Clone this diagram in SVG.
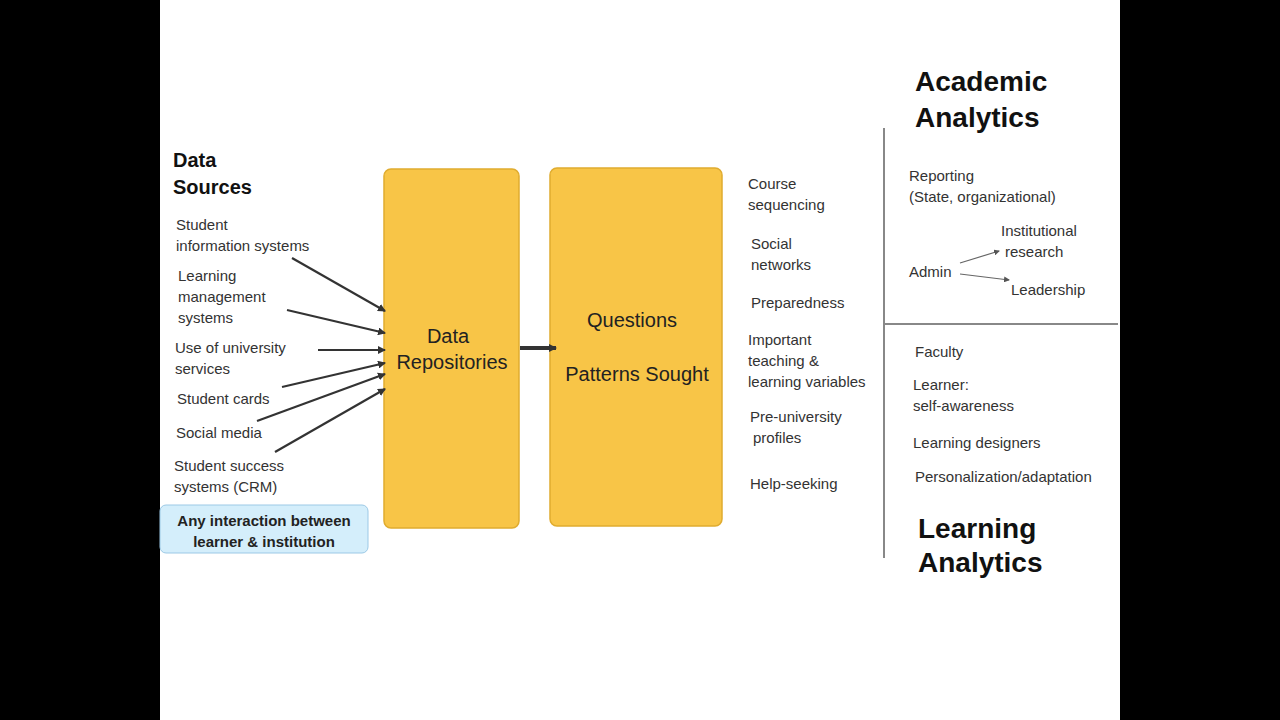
<svg xmlns="http://www.w3.org/2000/svg" width="1280" height="720" viewBox="0 0 1280 720">
<style>
text{font-family:"Liberation Sans",Arial,sans-serif;fill:#333}
.s{font-size:15px}
.h{font-size:20px;font-weight:bold;fill:#111}
.H{font-size:28px;font-weight:bold;fill:#111}
.b{font-size:20px;fill:#222}
.box{fill:#f8c547;stroke:#e0ac2f;stroke-width:1.5}
.c{stroke:#333;stroke-width:2.2;fill:none;marker-end:url(#a)}
.t{stroke:#666;stroke-width:1.2;fill:none;marker-end:url(#a2)}
</style>
<defs>
<marker id="a" markerWidth="8" markerHeight="8" refX="7" refY="4" orient="auto" markerUnits="userSpaceOnUse"><path d="M0,0 L8,4 L0,8z" fill="#333"/></marker>
<marker id="a2" markerWidth="6" markerHeight="6" refX="5" refY="3" orient="auto" markerUnits="userSpaceOnUse"><path d="M0,0 L6,3 L0,6z" fill="#555"/></marker>
</defs>
<rect width="1280" height="720" fill="#000"/>
<rect x="160" y="0" width="960" height="720" fill="#fff"/>
<g id="sources">
<text class="h" x="173" y="167">Data</text><text class="h" x="173" y="194">Sources</text>
<text class="s" x="176" y="230">Student</text><text class="s" x="176" y="251">information systems</text>
<text class="s" x="178" y="281">Learning</text><text class="s" x="178" y="302">management</text><text class="s" x="178" y="323">systems</text>
<text class="s" x="175" y="353">Use of university</text><text class="s" x="175" y="374">services</text>
<text class="s" x="177" y="404">Student cards</text>
<text class="s" x="176" y="438">Social media</text>
<text class="s" x="174" y="471">Student success</text><text class="s" x="174" y="492">systems (CRM)</text>
</g>
<g id="interaction">
<rect x="160" y="505" width="208" height="48" rx="6" fill="#d4eefb" stroke="#9cc9e6"/>
<text x="264" y="526" text-anchor="middle" style="font-size:15px;font-weight:bold;fill:#222">Any interaction between</text>
<text x="264" y="547" text-anchor="middle" style="font-size:15px;font-weight:bold;fill:#222">learner &amp; institution</text>
</g>
<g id="repo">
<rect class="box" x="384" y="169" width="135" height="359" rx="7"/>
<text class="b" x="448" y="343" text-anchor="middle">Data</text>
<text class="b" x="452" y="369" text-anchor="middle">Repositories</text>
</g>
<g id="questions">
<rect class="box" x="550" y="168" width="172" height="358" rx="7"/>
<text class="b" x="632" y="327" text-anchor="middle">Questions</text>
<text class="b" x="637" y="381" text-anchor="middle">Patterns Sought</text>
</g>
<g id="connectors">
<line class="c" x1="292" y1="258" x2="385" y2="311"/>
<line class="c" x1="287" y1="310" x2="385" y2="333"/>
<line class="c" x1="318" y1="350" x2="385" y2="350"/>
<line class="c" x1="282" y1="387" x2="385" y2="363"/>
<line class="c" x1="257" y1="421" x2="385" y2="374"/>
<line class="c" x1="275" y1="452" x2="385" y2="389"/>
<line x1="520" y1="348" x2="556" y2="348" stroke="#333" stroke-width="4" marker-end="url(#a)"/>
<line class="t" x1="960" y1="263" x2="999" y2="251"/>
<line class="t" x1="960" y1="274" x2="1009" y2="280"/>
</g>
<g id="questions-list">
<text class="s" x="748" y="189">Course</text><text class="s" x="748" y="210">sequencing</text>
<text class="s" x="751" y="249">Social</text><text class="s" x="751" y="270">networks</text>
<text class="s" x="751" y="308">Preparedness</text>
<text class="s" x="748" y="345">Important</text><text class="s" x="748" y="366">teaching &amp;</text><text class="s" x="748" y="387">learning variables</text>
<text class="s" x="750" y="422">Pre-university</text><text class="s" x="753" y="443">profiles</text>
<text class="s" x="750" y="489">Help-seeking</text>
</g>
<g id="analytics">
<line x1="884" y1="128" x2="884" y2="558" stroke="#888" stroke-width="2"/>
<line x1="884" y1="324" x2="1118" y2="324" stroke="#888" stroke-width="2"/>
<text class="H" x="915" y="91">Academic</text><text class="H" x="915" y="127">Analytics</text>
<text class="s" x="909" y="181">Reporting</text><text class="s" x="909" y="202">(State, organizational)</text>
<text class="s" x="1001" y="236">Institutional</text><text class="s" x="1005" y="257">research</text>
<text class="s" x="909" y="277">Admin</text>
<text class="s" x="1011" y="295">Leadership</text>
<text class="s" x="915" y="357">Faculty</text>
<text class="s" x="913" y="390">Learner:</text><text class="s" x="913" y="411">self-awareness</text>
<text class="s" x="913" y="448">Learning designers</text>
<text class="s" x="915" y="482">Personalization/adaptation</text>
<text class="H" x="918" y="538">Learning</text><text class="H" x="918" y="572">Analytics</text>
</g>
</svg>
